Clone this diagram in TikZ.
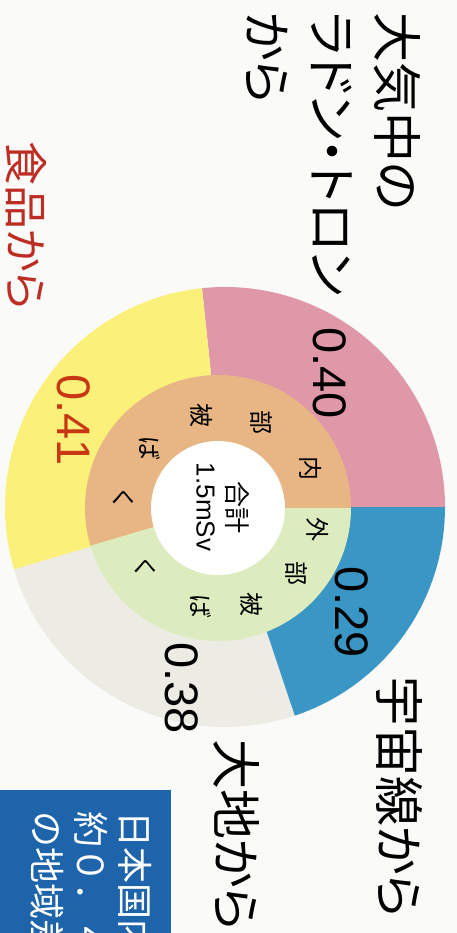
\documentclass[tikz,border=0pt]{standalone}
\usepackage{fontspec}
\setmainfont{Liberation Sans}
\newfontfamily\jpfont[RawFeature=+palt]{Noto Sans CJK JP}
\newfontfamily\jpplain{Noto Sans CJK JP}

\definecolor{paper}{RGB}{250,250,248}
\definecolor{pinkseg}{RGB}{223,152,167}
\definecolor{blueseg}{RGB}{58,150,196}
\definecolor{yellowseg}{RGB}{250,240,122}
\definecolor{grayseg}{RGB}{236,236,228}
\definecolor{tanseg}{RGB}{232,182,132}
\definecolor{greenseg}{RGB}{220,236,190}
\definecolor{foodred}{RGB}{190,45,35}
\definecolor{numred}{RGB}{200,55,20}
\definecolor{infoblue}{RGB}{30,100,170}

\tikzset{
  srclabel/.style={font=\jpfont\fontsize{50}{65}\selectfont, rotate=-90, inner sep=0, align=left},
  dose/.style={font=\fontsize{47}{50}\selectfont, rotate=-90, inner sep=0},
  ringchar/.style={font=\jpplain\fontsize{24}{24}\selectfont, rotate=-90, inner sep=0}
}

\begin{document}
\begin{tikzpicture}[x=1pt, y=1pt]
\useasboundingbox (0,0) rectangle (457,-933);
\clip (0,0) rectangle (457,-933);
\fill[paper] (0,0) rectangle (457,-933);

% centres of the two rings
\coordinate (c) at (225,-507);
\coordinate (ci) at (218,-508);

% outer ring
\fill[pinkseg] (c) -- ++(0:220) arc[start angle=0, end angle=96, radius=220] -- cycle;
\fill[yellowseg] (c) -- ++(96:220) arc[start angle=96, end angle=196.5, radius=220] -- cycle;
\fill[grayseg] (c) -- ++(196.5:220) arc[start angle=196.5, end angle=288.5, radius=220] -- cycle;
\fill[blueseg] (c) -- ++(288.5:220) arc[start angle=288.5, end angle=360, radius=220] -- cycle;

% inner ring
\fill[tanseg] (ci) -- ++(0:133) arc[start angle=0, end angle=196.5, radius=133] -- cycle;
\fill[greenseg] (ci) -- ++(196.5:133) arc[start angle=196.5, end angle=360, radius=133] -- cycle;
\fill[white] (ci) circle[radius=67];

% sources
\node (radon) [srclabel, anchor=north west] at (421,-12) {大気中の\\ラドン・トロン\\から};
\node (food) [srclabel, font=\jpfont\fontsize{44}{44}\selectfont, text=foodred, anchor=west] at (26,-141) {食品から};
\node (cosmic) [srclabel, anchor=west] at (400,-676) {宇宙線から};
\node (earth) [srclabel, anchor=west] at (237,-739) {大地から};

% doses
\node (radonval) [dose] at (330,-373) {0.40};
\node (foodval) [dose, text=numred] at (74,-420) {0.41};
\node (cosmicval) [dose] at (352,-612) {0.29};
\node (earthval) [dose] at (182,-688) {0.38};

% total
\node (total) [rotate=-90, inner sep=0, align=center, font=\fontsize{26}{31}\selectfont] at (223,-507) {{\jpplain 合計}\\1.5mSv};

% internal exposure
\node (in1) [ringchar] at ([shift={(23:101)}]ci) {内};
\node (in2) [ringchar] at ([shift={(63:96)}]ci) {部};
\node (in3) [ringchar] at ([shift={(100:94)}]ci) {被};
\node (in4) [ringchar] at ([shift={(139:90)}]ci) {ば};
\node (in5) [ringchar] at ([shift={(174:95)}]ci) {く};

% external exposure
\node (ex1) [ringchar] at ([shift={(-12:102)}]ci) {外};
\node (ex2) [ringchar] at ([shift={(-40:102)}]ci) {部};
\node (ex3) [ringchar] at ([shift={(-71:102)}]ci) {被};
\node (ex4) [ringchar] at ([shift={(-100:100)}]ci) {ば};
\node (ex5) [ringchar] at ([shift={(-141:94)}]ci) {く};

% note box, cut by the page edge
\fill[infoblue] (0,-790) rectangle (171,-933);
\node (note) [srclabel, font=\jpplain\fontsize{36}{44}\selectfont, text=white, anchor=north west] at (152,-811) {日本国内\\約０．４３\\の地域差};

\end{tikzpicture}
\end{document}
